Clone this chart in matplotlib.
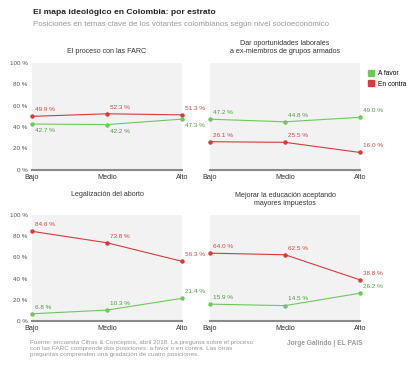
import matplotlib.pyplot as plt
from matplotlib.patches import Patch

# datos
estratos = ['Bajo', 'Medio', 'Alto']
titulos = ['El proceso con las FARC',
           'Dar oportunidades laborales\na ex-miembros de grupos armados',
           'Legalización del aborto',
           'Mejorar la educación aceptando\nmayores impuestos']
a_favor = [[42.7, 42.2, 47.3],
           [47.2, 44.8, 49.0],
           [6.8, 10.3, 21.4],
           [15.9, 14.5, 26.2]]
en_contra = [[49.9, 52.3, 51.3],
             [26.1, 25.5, 16.0],
             [84.6, 73.8, 56.3],
             [64.0, 62.5, 38.8]]
y_ticks = [0, 20, 40, 60, 80, 100]

verde = '#6cc95a'
rojo = '#d63a3a'
verde_txt = '#4f9a43'
rojo_txt = '#c94545'
gris = '#9a9a9a'

plt.rcParams['font.family'] = ['Liberation Sans', 'DejaVu Sans']

fig = plt.figure(figsize=(4.14, 3.68), dpi=100)
W, H = 414, 368

# posiciones de los ejes en píxeles (izq, arriba, der, abajo)
cajas = [(32, 63, 182, 169.5), (210, 63, 360, 169.5),
         (32, 215, 182, 321), (210, 215, 360, 321)]

for i, (x0, y0, x1, y1) in enumerate(cajas):
    ax = fig.add_axes([x0 / W, 1 - y1 / H, (x1 - x0) / W, (y1 - y0) / H])
    ax.set_facecolor('#f2f2f2')
    x = range(len(estratos))
    ax.plot(x, en_contra[i], color=rojo, lw=0.8, marker='o', ms=2.2, clip_on=False, zorder=3)
    ax.plot(x, a_favor[i], color=verde, lw=0.8, marker='o', ms=2.2, clip_on=False, zorder=3)
    for j in x:
        ax.annotate(f'{en_contra[i][j]:.1f} %', (j, en_contra[i][j]), xytext=(2, 3),
                    textcoords='offset points', fontsize=4.6, color=rojo_txt, va='bottom', ha='left')
        if i == 0:
            ax.annotate(f'{a_favor[i][j]:.1f} %', (j, a_favor[i][j]), xytext=(2, -3),
                        textcoords='offset points', fontsize=4.6, color=verde_txt, va='top', ha='left')
        else:
            ax.annotate(f'{a_favor[i][j]:.1f} %', (j, a_favor[i][j]), xytext=(2, 3),
                        textcoords='offset points', fontsize=4.6, color=verde_txt, va='bottom', ha='left')
    ax.set_xlim(0, 2)
    ax.set_ylim(0, 100)
    ax.set_xticks(list(x))
    ax.set_xticklabels(estratos, fontsize=5.2, color='#333333')
    ax.set_yticks(y_ticks)
    if i % 2 == 0:
        ax.set_yticklabels([f'{v} %' for v in y_ticks], fontsize=4.5, color='#555555')
    else:
        ax.set_yticklabels([])
    ax.tick_params(length=0, pad=3)
    for s in ['top', 'right', 'left']:
        ax.spines[s].set_visible(False)
    ax.spines['bottom'].set_color('#8a8a8a')
    ax.spines['bottom'].set_linewidth(1.5)
    ax.set_title(titulos[i], fontsize=5.1, color='#333333', pad=14 if i == 2 else 7,
                 linespacing=1.3)

fig.text(33 / W, 1 - 13 / H, 'El mapa ideológico en Colombia: por estrato',
         fontsize=6.1, fontweight='bold', color='#222222', va='center')
fig.text(33 / W, 1 - 25 / H,
         'Posiciones en temas clave de los votantes colombianos según nivel socioeconómico',
         fontsize=5.7, color='#999999', va='center')

fig.legend(handles=[Patch(color=verde, label='A favor'), Patch(color=rojo, label='En contra')],
           loc='upper left', bbox_to_anchor=(365 / W, 1 - 67 / H), frameon=False,
           fontsize=4.8, handlelength=1.0, handleheight=1.0, handletextpad=0.6,
           labelspacing=0.5, borderaxespad=0)

fig.text(30 / W, 1 - 340 / H,
         'Fuente: encuesta Cifras & Conceptos, abril 2018. La pregunta sobre el proceso\n'
         'con las FARC comprende dos posiciones: a favor o en contra. Las otras\n'
         'preguntas comprenden una gradación de cuatro posiciones.',
         fontsize=4.6, color=gris, va='top', linespacing=1.25)
fig.text(287 / W, 1 - 340 / H, 'Jorge Galindo | EL PAIS', fontsize=4.8,
         fontweight='bold', color=gris, va='top')

fig.savefig('out.png', dpi=100)
